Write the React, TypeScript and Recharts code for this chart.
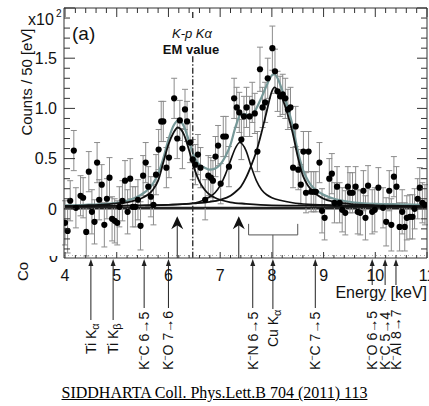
import React from 'react'
import {
    ComposedChart,
    Line,
    Scatter,
    ErrorBar,
    XAxis,
    YAxis,
    ReferenceLine,
    ReferenceDot,
} from 'recharts'

// measured spectrum (x10^2 counts / 50 eV)
const energies = [
    4.00, 4.05, 4.10, 4.17, 4.21, 4.30, 4.35, 4.41, 4.46, 4.52, 4.57, 4.62, 4.66, 4.71, 4.76, 4.81, 4.86, 4.91, 4.96,
    5.01, 5.05, 5.11, 5.16, 5.21, 5.26, 5.31, 5.36, 5.41, 5.46, 5.51, 5.56, 5.61, 5.66, 5.71, 5.76, 5.81, 5.86, 5.90, 5.96,
    6.01, 6.11, 6.17, 6.22, 6.27, 6.32, 6.36, 6.42, 6.47, 6.52, 6.57, 6.62, 6.71, 6.77, 6.82, 6.86, 6.91, 6.96,
    7.01, 7.06, 7.11, 7.17, 7.27, 7.32, 7.37, 7.41, 7.46, 7.51, 7.57, 7.62, 7.67, 7.72, 7.77, 7.82, 7.87, 7.92,
    8.01, 8.06, 8.11, 8.16, 8.21, 8.26, 8.31, 8.36, 8.41, 8.46, 8.51, 8.56, 8.61, 8.66, 8.71, 8.76, 8.81, 8.85, 8.92, 8.97,
    9.02, 9.11, 9.16, 9.21, 9.26, 9.31, 9.36, 9.42, 9.47, 9.51, 9.56, 9.62, 9.66, 9.71, 9.77, 9.81, 9.86, 9.94, 9.99,
    10.06, 10.15, 10.21, 10.27, 10.31, 10.36, 10.41, 10.47, 10.52, 10.57, 10.61, 10.67, 10.72, 10.76, 10.82, 10.86, 10.91, 10.96,
]
const counts = [
    -0.14, -0.22, 0.08, 0.58, 0.01, 0.13, 0.11, -0.23, 0.37, -0.03, -0.13, 0.46, 0.09, 0.24, -0.16, 0.10, 0.31, -0.10, -0.12,
    -0.14, 0.02, 0.08, 0.28, -0.03, 0.30, 0.02, 0.02, 0.09, -0.17, 0.33, 0.46, 0.22, 0.12, 0.04, 0.34, 0.59, 0.87, 0.87, 0.41,
    0.51, 1.10, 0.70, 0.88, 0.60, 0.99, 0.87, 0.66, 0.49, 0.44, 0.54, 0.41, 0.09, 0.33, 0.31, 0.28, 0.52, 0.63,
    0.25, 0.72, 0.72, 0.42, 1.10, 1.01, 0.96, 0.69, 0.92, 1.01, 0.92, 1.06, 0.95, 0.57, 1.39, 1.01, 1.06, 1.30,
    1.60, 1.37, 1.17, 1.12, 1.14, 1.10, 0.99, 1.01, 0.41, 0.82, 0.39, 0.24, 0.57, 0.16, 0.57, 0.17, 0.17, 0.17, 0.46, -0.02,
    -0.09, 0.30, 0.35, 0.06, 0.22, 0.06, -0.01, -0.04, 0.22, 0.16, 0.16, 0.22, -0.03, -0.04, 0.18, -0.09, 0.23, -0.03, -0.01,
    0.21, 0.01, -0.13, 0.18, -0.16, 0.32, 0.22, -0.18, -0.03, -0.18, -0.09, -0.08, -0.08, 0.00, 0.10, 0.21, 0.06, 0.04,
]
const errors = [
    0.22, 0.22, 0.20, 0.20, 0.20, 0.20, 0.20, 0.24, 0.20, 0.22, 0.22, 0.20, 0.20, 0.20, 0.22, 0.20, 0.20, 0.22, 0.22,
    0.22, 0.20, 0.20, 0.20, 0.22, 0.20, 0.20, 0.20, 0.20, 0.24, 0.20, 0.20, 0.20, 0.20, 0.20, 0.20, 0.20, 0.20, 0.20, 0.20,
    0.20, 0.20, 0.20, 0.20, 0.20, 0.20, 0.20, 0.20, 0.20, 0.20, 0.20, 0.20, 0.20, 0.20, 0.20, 0.20, 0.20, 0.20,
    0.20, 0.20, 0.20, 0.20, 0.20, 0.20, 0.20, 0.20, 0.20, 0.20, 0.20, 0.20, 0.20, 0.20, 0.22, 0.20, 0.20, 0.20,
    0.22, 0.22, 0.20, 0.20, 0.20, 0.20, 0.20, 0.20, 0.20, 0.20, 0.20, 0.20, 0.20, 0.20, 0.20, 0.20, 0.20, 0.20, 0.20, 0.22,
    0.22, 0.20, 0.20, 0.20, 0.20, 0.20, 0.22, 0.22, 0.20, 0.20, 0.20, 0.20, 0.22, 0.22, 0.20, 0.22, 0.20, 0.22, 0.22,
    0.20, 0.20, 0.24, 0.20, 0.26, 0.20, 0.20, 0.24, 0.22, 0.24, 0.22, 0.22, 0.22, 0.20, 0.20, 0.20, 0.20, 0.20,
]

// fit: total and the three lines
const totalE = [4.0, 4.4, 4.8, 5.0, 5.2, 5.4, 5.5, 5.6, 5.7, 5.8, 5.9, 6.0, 6.1, 6.2, 6.3, 6.4, 6.5, 6.6, 6.7, 6.8, 6.9, 7.0, 7.1, 7.2, 7.3, 7.4, 7.5, 7.56, 7.6, 7.7, 7.8, 7.9, 8.0, 8.05, 8.1, 8.2, 8.3, 8.4, 8.5, 8.6, 8.7, 8.8, 8.9, 9.0, 9.2, 9.5, 10.0, 10.5, 11.0]
const totalV = [0.035, 0.04, 0.05, 0.06, 0.08, 0.12, 0.15, 0.19, 0.25, 0.35, 0.50, 0.69, 0.83, 0.88, 0.82, 0.67, 0.52, 0.44, 0.41, 0.39, 0.40, 0.44, 0.52, 0.64, 0.82, 0.94, 0.94, 0.91, 0.92, 1.00, 1.11, 1.23, 1.33, 1.34, 1.31, 1.18, 1.02, 0.83, 0.58, 0.39, 0.28, 0.21, 0.17, 0.14, 0.10, 0.07, 0.05, 0.045, 0.04]

const peak1E = [4.0, 4.4, 4.8, 5.0, 5.2, 5.4, 5.5, 5.6, 5.7, 5.8, 5.9, 6.0, 6.1, 6.18, 6.3, 6.4, 6.5, 6.6, 6.7, 6.8, 6.9, 7.0, 7.2, 7.5, 8.0, 9.0, 10.0, 11.0]
const peak1V = [0.03, 0.035, 0.045, 0.055, 0.065, 0.09, 0.11, 0.14, 0.19, 0.28, 0.46, 0.64, 0.76, 0.81, 0.74, 0.58, 0.40, 0.27, 0.19, 0.14, 0.11, 0.09, 0.065, 0.05, 0.035, 0.03, 0.025, 0.025]

const peak2E = [4.0, 5.0, 5.5, 6.0, 6.4, 6.6, 6.8, 6.9, 7.0, 7.1, 7.2, 7.3, 7.38, 7.5, 7.6, 7.7, 7.8, 7.9, 8.0, 8.2, 8.4, 8.7, 9.0, 9.5, 10.0, 11.0]
const peak2V = [0.025, 0.03, 0.035, 0.04, 0.05, 0.07, 0.12, 0.16, 0.23, 0.34, 0.48, 0.61, 0.66, 0.58, 0.42, 0.28, 0.19, 0.14, 0.11, 0.08, 0.06, 0.045, 0.04, 0.035, 0.03, 0.025]

const peak3E = [4.0, 5.0, 6.0, 6.5, 6.8, 7.0, 7.2, 7.3, 7.4, 7.5, 7.6, 7.7, 7.8, 7.9, 8.0, 8.05, 8.1, 8.2, 8.3, 8.4, 8.5, 8.6, 8.7, 8.8, 8.9, 9.0, 9.2, 9.5, 10.0, 10.5, 11.0]
const peak3V = [0.025, 0.03, 0.04, 0.055, 0.07, 0.09, 0.13, 0.17, 0.22, 0.31, 0.43, 0.57, 0.76, 0.97, 1.17, 1.21, 1.19, 1.10, 0.95, 0.76, 0.52, 0.33, 0.23, 0.17, 0.13, 0.10, 0.07, 0.05, 0.035, 0.03, 0.025]

const bkgE = [4.0, 11.0]
const bkgV = [0.015, 0.015]

// K-p K-alpha EM value, fitted peak markers, Cu bracket
const emValueE = 6.47
const peakMarkE = [6.17, 7.36]
const bracketE = [7.55, 8.02, 8.50]

// known lines under the axis
const lineE = [4.50, 4.93, 5.53, 6.00, 7.63, 8.02, 8.84, 9.94, 10.19, 10.40]
const lineLabels = ['Ti Kα', 'Ti Kβ', 'K⁻C 6→5', 'K⁻O 7→6', 'K⁻N 6→5', 'Cu Kα', 'K⁻C 7→5', 'K⁻O 6→5', 'K⁻C 5→4', 'K⁻Al 8→7']

const xTicks = Array.from({ length: 36 }, (_, i) => Math.round((4 + i * 0.2) * 10) / 10)
const yTicks = Array.from({ length: 25 }, (_, i) => Math.round(-4 + i) / 10)

// layout (page pixels)
const labelStartY = [354, 354, 370, 370, 370, 347, 370, 370, 370, 370]
const shaftEndY = [320, 320, 308, 308, 308, 309, 308, 301, 301, 301]

const FONT = '"Liberation Sans", Arial, sans-serif'
const FRAME = '#333'

const pts = energies.map((e, i) => ({ e, v: counts[i], err: errors[i] }))
const toCurve = (es: number[], vs: number[]) => es.map((e, i) => ({ e, v: vs[i] }))

const isInt = (v: number) => Math.abs(v - Math.round(v)) < 1e-6
const isHalf = (v: number) => Math.abs(v * 2 - Math.round(v * 2)) < 1e-6

const BottomTick = ({ x, y, payload }: any) => {
    const v = payload.value
    const major = isInt(v)
    return (
        <g>
            <line x1={x} x2={x} y1={y} y2={y - (major ? 6 : 3)} stroke={FRAME} />
            {major && (
                <text x={x} y={y + 23} textAnchor="middle" fontSize={16} fontFamily={FONT} fill="#111">{v}</text>
            )}
        </g>
    )
}

const TopTick = ({ x, y, payload }: any) => {
    const major = isInt(payload.value)
    return <line x1={x} x2={x} y1={y} y2={y + (major ? 9 : 5)} stroke={FRAME} />
}

const LeftTick = ({ x, y, payload }: any) => {
    const v = payload.value
    const major = isHalf(v)
    const showLabel = major && v >= 0 && v < 1.9
    return (
        <g>
            <line x1={x} x2={x + (major ? 11 : 6)} y1={y} y2={y} stroke={FRAME} />
            {showLabel && (
                <text x={x - 7} y={y} dy="0.36em" textAnchor="end" fontSize={16} fontFamily={FONT} fill="#111">
                    {v === 0 ? '0' : v.toFixed(1)}
                </text>
            )}
        </g>
    )
}

const RightTick = ({ x, y, payload }: any) => {
    const major = isHalf(payload.value)
    return <line x1={x} x2={x - (major ? 10 : 6)} y1={y} y2={y} stroke={FRAME} />
}

const PeakArrow = ({ cx, cy }: any) => (
    <path d={`M${cx},${cy} L${cx - 6},${cy + 13} L${cx},${cy + 9} L${cx + 6},${cy + 13} Z`} fill="#111" />
)

const LineLabel = ({ label }: { label: string }) => {
    if (label.includes('⁻')) {
        const [head, rest] = label.split('⁻')
        return (
            <>
                {head}
                <tspan fontSize={9} dy={-5}>−</tspan>
                <tspan dy={5}>{rest}</tspan>
            </>
        )
    }
    const last = label.slice(-1)
    if (last === 'α' || last === 'β') {
        return (
            <>
                {label.slice(0, -1)}
                <tspan fontSize={11} dy={3}>{last}</tspan>
            </>
        )
    }
    return <>{label}</>
}

const makeLineMarker = (i: number) => ({ cx, cy }: any) => (
    <g>
        <path d={`M${cx},${cy + 1} L${cx - 2.5},${cy + 8} L${cx + 2.5},${cy + 8} Z`} fill="#222" />
        <line x1={cx} x2={cx} y1={cy + 6} y2={shaftEndY[i]} stroke="#222" strokeWidth={1} />
        <text
            transform={`translate(${cx},${labelStartY[i]}) rotate(-90)`}
            textAnchor="start"
            dy="0.36em"
            fontSize={14}
            fontFamily={FONT}
            fill="#111"
        >
            <LineLabel label={lineLabels[i]} />
        </text>
    </g>
)

export default function App() {
    return (
        <div style={{ position: 'absolute', left: 0, top: 0, width: 429, height: 406, background: '#fff' }}>
            <ComposedChart
                width={429}
                height={406}
                margin={{ top: 7, right: 1, bottom: 118, left: 0 }}
                style={{ overflow: 'visible' }}
            >
                <XAxis
                    xAxisId="b"
                    type="number"
                    dataKey="e"
                    domain={[3.98, 11]}
                    ticks={xTicks}
                    interval={0}
                    allowDataOverflow
                    height={30}
                    tickSize={0}
                    tickMargin={0}
                    tickLine={false}
                    axisLine={{ stroke: FRAME }}
                    tick={BottomTick}
                />
                <XAxis
                    xAxisId="t"
                    orientation="top"
                    type="number"
                    dataKey="e"
                    domain={[3.98, 11]}
                    ticks={xTicks}
                    interval={0}
                    allowDataOverflow
                    height={1}
                    tickSize={0}
                    tickMargin={0}
                    tickLine={false}
                    axisLine={{ stroke: FRAME }}
                    tick={TopTick}
                />
                <YAxis
                    yAxisId="l"
                    type="number"
                    domain={[-0.49, 2.0]}
                    ticks={yTicks}
                    interval={0}
                    allowDataOverflow
                    width={64}
                    tickSize={0}
                    tickMargin={0}
                    tickLine={false}
                    axisLine={{ stroke: FRAME }}
                    tick={LeftTick}
                />
                <YAxis
                    yAxisId="r"
                    orientation="right"
                    type="number"
                    domain={[-0.49, 2.0]}
                    ticks={yTicks}
                    interval={0}
                    allowDataOverflow
                    width={1}
                    tickSize={0}
                    tickMargin={0}
                    tickLine={false}
                    axisLine={{ stroke: FRAME }}
                    tick={RightTick}
                />

                <ReferenceLine xAxisId="b" yAxisId="l" y={-0.465} stroke="#aaa" strokeDasharray="1 3" />
                <ReferenceLine xAxisId="b" yAxisId="l" y={0} stroke="#222" strokeWidth={1.4} />

                <Scatter xAxisId="b" yAxisId="l" data={pts} dataKey="v" isAnimationActive={false}
                    shape={(p: any) => <circle cx={p.cx} cy={p.cy} r={3.1} fill="#000" />}>
                    <ErrorBar dataKey="err" direction="y" width={3} stroke="#8c8c8c" strokeWidth={1} />
                </Scatter>

                <Line xAxisId="b" yAxisId="l" data={toCurve(bkgE, bkgV)} dataKey="v" type="linear"
                    stroke="#222" strokeWidth={1.3} dot={false} isAnimationActive={false} />
                <Line xAxisId="b" yAxisId="l" data={toCurve(totalE, totalV)} dataKey="v" type="monotone"
                    stroke="#769898" strokeWidth={2.2} dot={false} isAnimationActive={false} />
                <Line xAxisId="b" yAxisId="l" data={toCurve(peak1E, peak1V)} dataKey="v" type="monotone"
                    stroke="#111" strokeWidth={1.8} dot={false} isAnimationActive={false} />
                <Line xAxisId="b" yAxisId="l" data={toCurve(peak2E, peak2V)} dataKey="v" type="monotone"
                    stroke="#111" strokeWidth={1.6} dot={false} isAnimationActive={false} />
                <Line xAxisId="b" yAxisId="l" data={toCurve(peak3E, peak3V)} dataKey="v" type="monotone"
                    stroke="#111" strokeWidth={1.8} dot={false} isAnimationActive={false} />

                {/* EM value, dash-dot broken by its label */}
                <ReferenceLine xAxisId="b" yAxisId="l" segment={[{ x: emValueE, y: 1.96 }, { x: emValueE, y: 1.88 }]}
                    stroke="#222" strokeWidth={1.3} strokeDasharray="6 2 1.5 2" />
                <ReferenceLine xAxisId="b" yAxisId="l" segment={[{ x: emValueE, y: 1.52 }, { x: emValueE, y: -0.49 }]}
                    stroke="#222" strokeWidth={1.3} strokeDasharray="6 2 1.5 2" />

                {peakMarkE.map((e) => (
                    <ReferenceLine key={`ps${e}`} xAxisId="b" yAxisId="l"
                        segment={[{ x: e, y: -0.49 }, { x: e, y: -0.16 }]} stroke="#222" strokeWidth={1} />
                ))}
                {peakMarkE.map((e) => (
                    <ReferenceDot key={`pa${e}`} xAxisId="b" yAxisId="l" x={e} y={-0.075} ifOverflow="visible" shape={PeakArrow} />
                ))}

                <ReferenceLine xAxisId="b" yAxisId="l" segment={[{ x: bracketE[0], y: -0.15 }, { x: bracketE[0], y: -0.26 }]} stroke="#555" />
                <ReferenceLine xAxisId="b" yAxisId="l" segment={[{ x: bracketE[0], y: -0.26 }, { x: bracketE[2], y: -0.26 }]} stroke="#555" />
                <ReferenceLine xAxisId="b" yAxisId="l" segment={[{ x: bracketE[2], y: -0.26 }, { x: bracketE[2], y: -0.15 }]} stroke="#555" />
                <ReferenceLine xAxisId="b" yAxisId="l" segment={[{ x: bracketE[1], y: -0.26 }, { x: bracketE[1], y: -0.49 }]} stroke="#555" />

                {lineE.map((e, i) => (
                    <ReferenceDot key={`ln${i}`} xAxisId="b" yAxisId="l" x={e} y={-0.49} ifOverflow="visible" shape={makeLineMarker(i)} />
                ))}
            </ComposedChart>

            <svg width={429} height={406} style={{ position: 'absolute', left: 0, top: 0, pointerEvents: 'none' }}>
                <defs>
                    <clipPath id="cut0">
                        <rect x={40} y={256} width={25} height={10} />
                    </clipPath>
                </defs>
                <text x={28} y={25} fontSize={16} fontFamily={FONT} fill="#111">x10</text>
                <text x={56} y={17} fontSize={10} fontFamily={FONT} fill="#111">2</text>
                <text x={72} y={40} fontSize={19} fontFamily={FONT} fill="#111">(a)</text>
                <text x={192} y={38} textAnchor="middle" fontSize={13} fontStyle="italic" fontFamily={FONT} fill="#111">K-p Kα</text>
                <text x={191} y={54} textAnchor="middle" fontSize={13} fontWeight="bold" fontFamily={FONT} fill="#111">EM value</text>
                <text transform="translate(27,82) rotate(-90)" textAnchor="middle" dy="0.36em" fontSize={15}
                    textLength={107} lengthAdjust="spacingAndGlyphs" fontFamily={FONT} fill="#111">
                    Counts / 50 [eV]
                </text>
                <text transform="translate(23,281) rotate(-90)" textAnchor="start" dy="0.36em" fontSize={15} fontFamily={FONT} fill="#111">Co</text>
                <text x={58} y={262} textAnchor="end" fontSize={16} fontFamily={FONT} fill="#111" clipPath="url(#cut0)">0</text>
                <rect x={323} y={285} width={106} height={15} fill="#fff" />
                <text x={427} y={298} textAnchor="end" fontSize={16} fontFamily={FONT} fill="#111">Energy [keV]</text>
            </svg>

            <div style={{
                position: 'absolute', left: 0, top: 384, width: 429, textAlign: 'center',
                fontFamily: '"Liberation Serif", "Times New Roman", serif', fontSize: 16,
                textDecoration: 'underline', color: '#000',
            }}>
                SIDDHARTA Coll. Phys.Lett.B 704 (2011) 113
            </div>
        </div>
    )
}
